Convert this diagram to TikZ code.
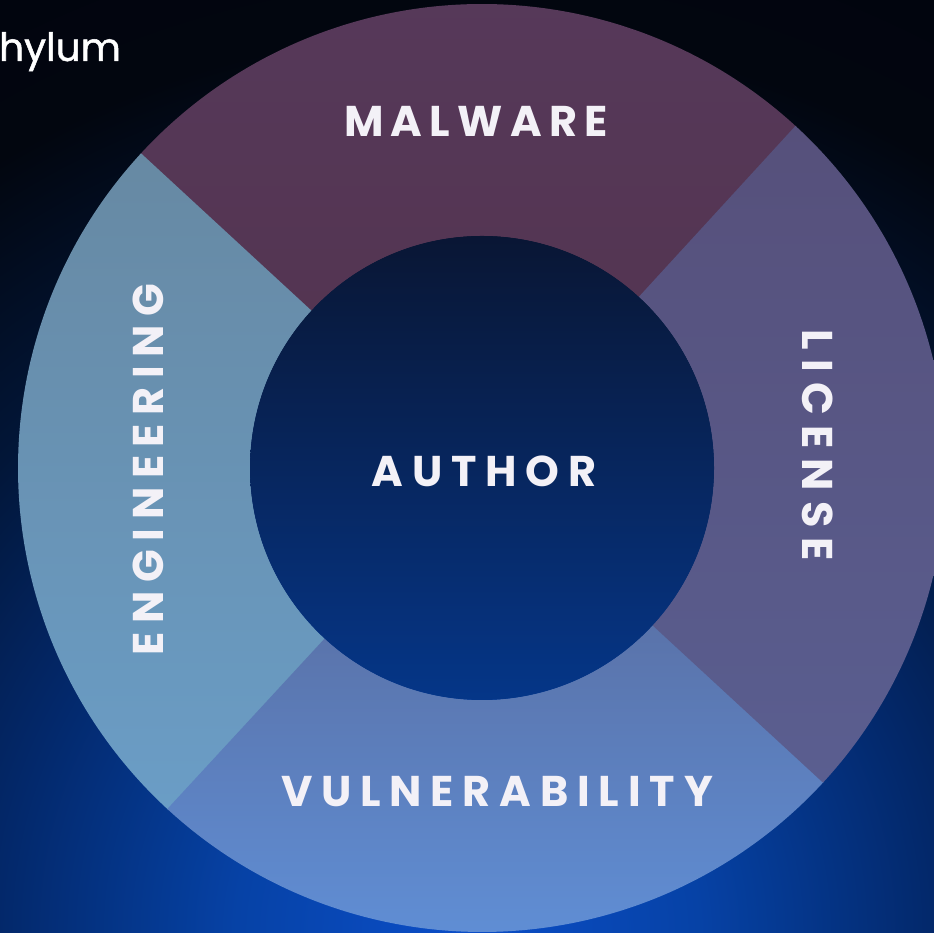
\documentclass[tikz,border=0pt]{standalone}
\usepackage{fontspec}
\setmainfont{Poppins}
\definecolor{glowA}{HTML}{0B4EC8}
\definecolor{glowB}{HTML}{0642A6}
\definecolor{glowC}{HTML}{03286A}
\definecolor{glowD}{HTML}{021638}
\definecolor{glowE}{HTML}{02060F}
\definecolor{glowF}{HTML}{01040E}
\definecolor{malTop}{HTML}{56395A}
\definecolor{malBot}{HTML}{543552}
\definecolor{licTop}{HTML}{56507B}
\definecolor{licBot}{HTML}{5A5E90}
\definecolor{engTop}{HTML}{6789A3}
\definecolor{engBot}{HTML}{6A9DC6}
\definecolor{vulTop}{HTML}{5A73AA}
\definecolor{vulBot}{HTML}{6090D8}
\definecolor{coreTop}{HTML}{091634}
\definecolor{coreBot}{HTML}{053688}
\definecolor{labelwhite}{HTML}{F3F1F7}
\pgfdeclareradialshading{bgglow}{\pgfpoint{0bp}{0bp}}{color(0bp)=(glowA); color(230bp)=(glowB); color(467bp)=(glowC); color(660bp)=(glowD); color(900bp)=(glowE); color(1100bp)=(glowF)}
\begin{document}
\begin{tikzpicture}[x=1pt,y=1pt,
  seglabel/.style={text=labelwhite, inner sep=0pt, anchor=base,
    font=\fontsize{43}{43}\selectfont\bfseries\addfontfeatures{LetterSpace=#1}},
  seglabel/.default=18,
  brandlabel/.style={text=white, inner sep=0pt, anchor=base west,
    font=\fontsize{39}{39}\selectfont\addfontfeatures{FakeBold=1.3}}]
\useasboundingbox (0,0) rectangle (934,933);
\clip (0,0) rectangle (934,933);
\fill[glowF] (0,0) rectangle (934,933);
\node[inner sep=0pt] (glow) at (467,0) {\pgfuseshading{bgglow}};
\begin{scope}[shift={(482,465)}]
  \shade[top color=malTop, bottom color=malBot]
    (47.3:464) arc[start angle=47.3, end angle=137.5, radius=464pt]
    -- (137.5:232) arc[start angle=137.5, end angle=47.3, radius=232pt] -- cycle;
  \shade[top color=engTop, bottom color=engBot]
    (137.3:464) arc[start angle=137.3, end angle=227.5, radius=464pt]
    -- (227.5:232) arc[start angle=227.5, end angle=137.3, radius=232pt] -- cycle;
  \shade[top color=vulTop, bottom color=vulBot]
    (227.3:464) arc[start angle=227.3, end angle=317.5, radius=464pt]
    -- (317.5:232) arc[start angle=317.5, end angle=227.3, radius=232pt] -- cycle;
  \shade[top color=licTop, bottom color=licBot]
    (317.3:464) arc[start angle=317.3, end angle=407.5, radius=464pt]
    -- (407.5:232) arc[start angle=407.5, end angle=317.3, radius=232pt] -- cycle;
\end{scope}
\node[circle, minimum size=464pt, inner sep=0pt, top color=coreTop, bottom color=coreBot] (core) at (482,465) {};
\node[seglabel=17] (malware) at (476,796) {MALWARE};
\node[seglabel=20.5] (author) at (484,446) {AUTHOR};
\node[seglabel=20.5] (vuln) at (497,126) {VULNERABILITY};
\node[seglabel=23.5, rotate=-90] (license) at (802,488) {LICENSE};
\node[seglabel=20, rotate=90] (engineering) at (163,463.5) {ENGINEERING};
\node[brandlabel] (brand) at (-1,872) {hylum};
\end{tikzpicture}
\end{document}
